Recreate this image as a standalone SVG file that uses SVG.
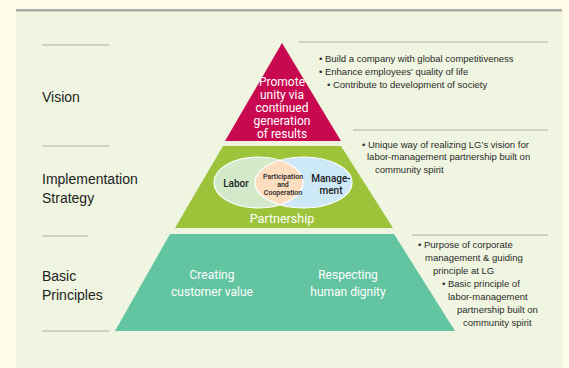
<svg xmlns="http://www.w3.org/2000/svg" width="569" height="368" viewBox="0 0 569 368">
<style>
.rule{stroke:#AAB0AE;stroke-width:1.2;fill:none}
.lbl{font-family:"Liberation Sans",Arial,sans-serif;font-size:14px;fill:#222}
.note{font-family:"Liberation Sans",Arial,sans-serif;font-size:9.5px;fill:#2a2a2a}
.w{font-family:Roboto,"Liberation Sans",sans-serif;font-size:12px;fill:#fff;text-anchor:middle}
.v{font-family:Roboto,"Liberation Sans",sans-serif;font-size:10px;fill:#222;text-anchor:middle;font-weight:500}
.s{font-family:Roboto,"Liberation Sans",sans-serif;font-size:7px;fill:#222;text-anchor:middle;font-weight:500}
</style>
<defs>
<clipPath id="lc"><ellipse cx="258.5" cy="182.5" rx="44.5" ry="25.5"/></clipPath>
</defs>
<rect width="569" height="368" fill="#FEFDE8"/>
<rect x="16" y="9" width="546" height="359" fill="#EFF5E0"/>
<rect x="16" y="9" width="546" height="2.5" fill="#A8ABA8"/>
<g id="rules">
<line class="rule" x1="42" y1="45" x2="109" y2="45"/>
<line class="rule" x1="42" y1="146" x2="109" y2="146"/>
<line class="rule" x1="42" y1="236" x2="88" y2="236"/>
<line class="rule" x1="42" y1="331" x2="109" y2="331"/>
<line class="rule" x1="299" y1="42" x2="548" y2="42"/>
<line class="rule" x1="353" y1="130" x2="548" y2="130"/>
<line class="rule" x1="412" y1="235" x2="548" y2="235"/>
</g>
<g id="labels">
<text class="lbl" x="42" y="102">Vision</text>
<text class="lbl" x="42" y="184">Implementation</text>
<text class="lbl" x="42" y="203">Strategy</text>
<text class="lbl" x="42" y="281">Basic</text>
<text class="lbl" x="42" y="300">Principles</text>
</g>
<g id="vision">
<polygon points="282,43 341,141 225,141" fill="#C9094F"/>
<text class="w" x="282" y="86">Promote</text>
<text class="w" x="282" y="99">unity via</text>
<text class="w" x="282" y="112">continued</text>
<text class="w" x="282" y="125">generation</text>
<text class="w" x="282" y="138">of results</text>
</g>
<g id="vision-notes">
<text class="note" x="319" y="62">• Build a company with global competitiveness</text>
<text class="note" x="319" y="75">• Enhance employees’ quality of life</text>
<text class="note" x="327" y="88">• Contribute to development of society</text>
</g>
<g id="strategy">
<polygon points="223,146 341,146 393,228 175,228" fill="#9DC33A"/>
<ellipse cx="258.5" cy="182.5" rx="44.5" ry="25.5" fill="#D4E8CA"/>
<ellipse cx="303.5" cy="182.5" rx="48.5" ry="25.5" fill="#CDE8F6"/>
<ellipse cx="303.5" cy="182.5" rx="48.5" ry="25.5" fill="#FCDDC0" clip-path="url(#lc)"/>
<ellipse cx="258.5" cy="182.5" rx="44.5" ry="25.5" fill="none" stroke="#fff" stroke-width="1.2"/>
<ellipse cx="303.5" cy="182.5" rx="48.5" ry="25.5" fill="none" stroke="#fff" stroke-width="1.2"/>
<text class="v" x="236" y="187">Labor</text>
<text class="v" x="331" y="182">Manage-</text>
<text class="v" x="331" y="194">ment</text>
<text class="s" x="283" y="179">Participation</text>
<text class="s" x="283" y="187">and</text>
<text class="s" x="283" y="195">Cooperation</text>
<text class="w" x="282" y="223" style="font-size:12.5px">Partnership</text>
</g>
<g id="strategy-notes">
<text class="note" x="362" y="148">• Unique way of realizing LG’s vision for</text>
<text class="note" x="367" y="160">labor-management partnership built on</text>
<text class="note" x="375" y="173">community spirit</text>
</g>
<g id="principles">
<polygon points="170,234 394,234 455,331 115,331" fill="#62C4A1"/>
<text class="w" x="212" y="279">Creating</text>
<text class="w" x="212" y="296">customer value</text>
<text class="w" x="348" y="279">Respecting</text>
<text class="w" x="348" y="296">human dignity</text>
</g>
<g id="principles-notes">
<text class="note" x="418" y="248">• Purpose of corporate</text>
<text class="note" x="425" y="261">management &amp; guiding</text>
<text class="note" x="433" y="274">principle at LG</text>
<text class="note" x="442" y="287">• Basic principle of</text>
<text class="note" x="448" y="300">labor-management</text>
<text class="note" x="457" y="313">partnership built on</text>
<text class="note" x="463" y="326">community spirit</text>
</g>
</svg>
